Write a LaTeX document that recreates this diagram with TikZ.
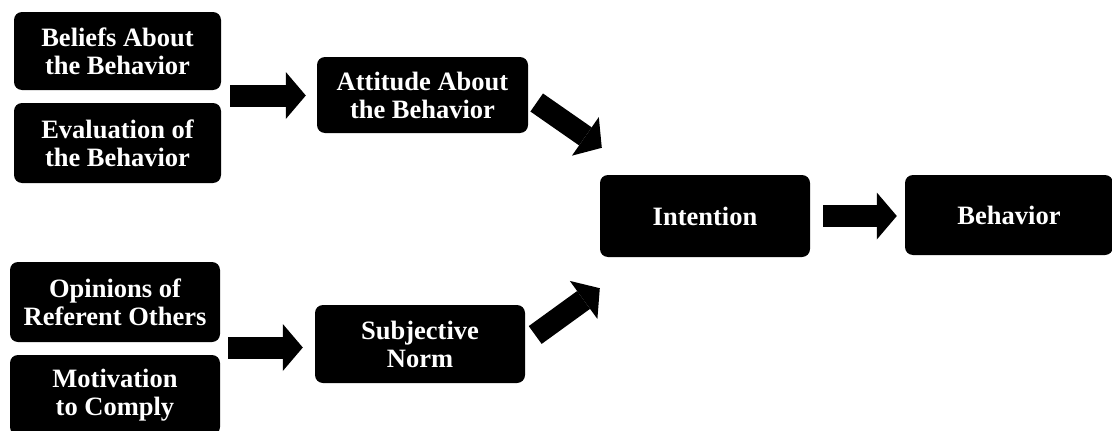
\documentclass[tikz,border=0pt]{standalone}
\usepackage{fontspec}
\setmainfont{Liberation Serif}
\usetikzlibrary{calc,arrows.meta}
\begin{document}
\begin{tikzpicture}[x=1pt,y=-1pt,
  box/.style={fill=black, rounded corners=8pt, text=white,
    font=\bfseries\fontsize{26.5}{28}\selectfont, align=center, inner sep=0pt},
  blk/.style={line width=22pt, line cap=butt,
    -{Triangle[length=20pt,width=47pt,line width=0pt]}}
]
\useasboundingbox (0,0) rectangle (1112,431);
% boxes
\node[box, minimum width=207pt, minimum height=78pt] (b1) at (117.5,51) {Beliefs About\\the Behavior};
\node[box, minimum width=207pt, minimum height=80pt] (b2) at (117.5,143) {Evaluation of\\the Behavior};
\node[box, minimum width=210pt, minimum height=80pt] (op) at (115,302) {Opinions of\\Referent Others};
\node[box, minimum width=210pt, minimum height=80pt] (mot) at (115,395) {Motivation\\to Comply};
\node[box, minimum width=211pt, minimum height=76pt] (att) at (422.5,95) {Attitude About\\the Behavior};
\node[box, minimum width=210pt, minimum height=78pt] (sn) at (420,344) {Subjective\\Norm};
\node[box, minimum width=210pt, minimum height=82pt] (int) at (705,216) {Intention};
\node[box, minimum width=208pt, minimum height=80pt] (beh) at (1009,215) {Behavior};
% connectors
\coordinate (a1s) at ($(b1.south east)!0.5!(b2.north east)+(9,-1)$);
\draw[blk] (a1s) -- ($(a1s -| att.west)+(-11,0)$);
\coordinate (a2s) at ($(op.south east)!0.5!(mot.north east)+(8,-1)$);
\draw[blk] (a2s) -- ($(a2s -| sn.west)+(-12,0)$);
\draw[blk] ($(int.east)+(13,0)$) -- ($(int.east -| beh.west)+(-8,0)$);
\draw[blk] ($(att.east)+(8.5,7.5)$) -- ($(int.north west)+(2,-27)$);
\draw[blk] ($(sn.east)+(10,-9)$) -- ($(int.south west)+(0,31)$);
\end{tikzpicture}
\end{document}
